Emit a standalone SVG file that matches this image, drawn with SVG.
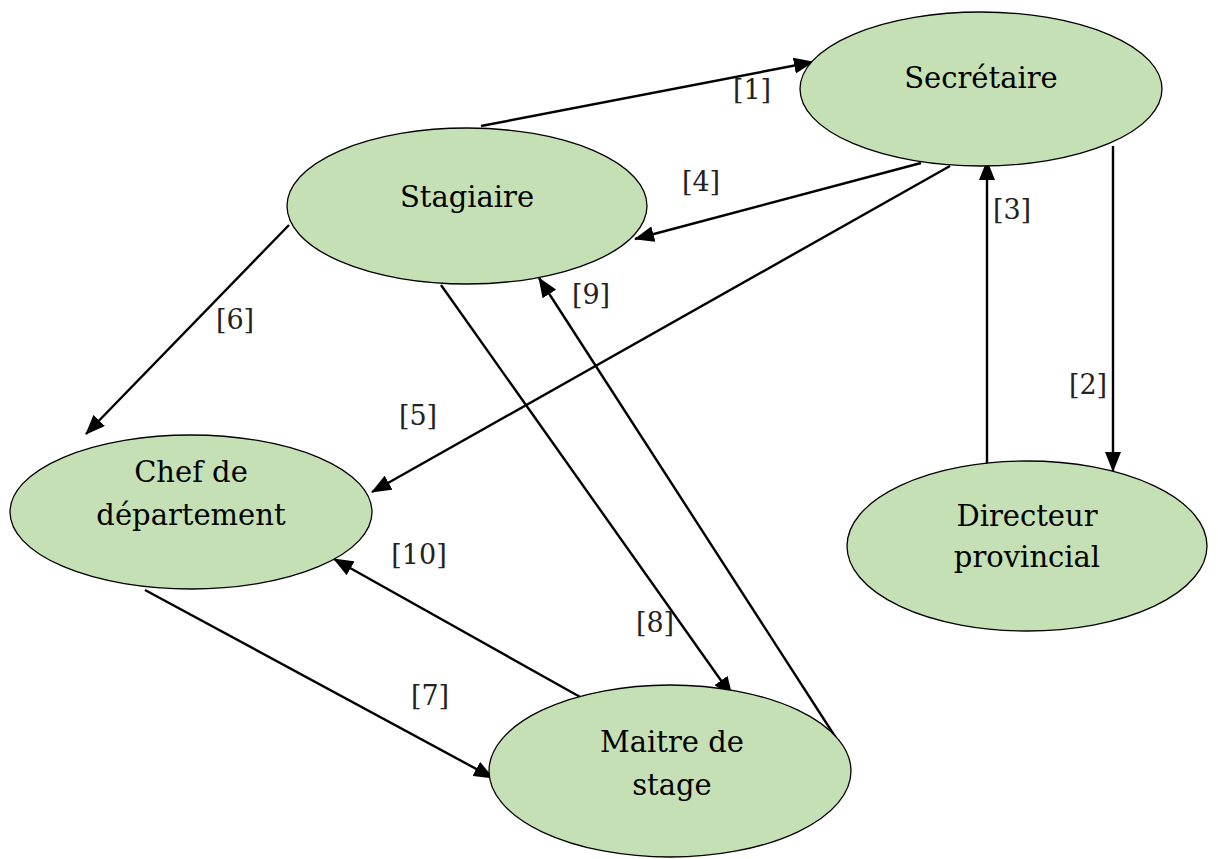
<svg xmlns="http://www.w3.org/2000/svg" width="1218" height="859" viewBox="0 0 1218 859">
  <style>
    .node ellipse { fill: #c5e0b4; stroke: #000; stroke-width: 1.3; }
    .node text { font-family: "DejaVu Serif", "Liberation Serif", serif; font-size: 29px; fill: #000; text-anchor: middle; }
    .edge { stroke: #000; stroke-width: 2.4; fill: none; marker-end: url(#arrow); }
    .lbl { font-family: "DejaVu Serif", "Liberation Serif", serif; font-size: 27px; fill: #222; text-anchor: middle; }
  </style>
  <defs>
    <marker id="arrow" markerUnits="userSpaceOnUse" markerWidth="20" markerHeight="16" refX="19" refY="8" orient="auto">
      <path d="M0,0 L20,8 L0,16 Z" fill="#000"/>
    </marker>
  </defs>
  <rect width="1218" height="859" fill="#fff"/>

  <g id="connectors">
    <line class="edge" x1="481" y1="126" x2="813" y2="62"/>
    <line class="edge" x1="1113" y1="146" x2="1113" y2="471"/>
    <line class="edge" x1="987" y1="464" x2="987" y2="161"/>
    <line class="edge" x1="921" y1="163" x2="635" y2="239"/>
    <line class="edge" x1="950" y1="166" x2="372" y2="492"/>
    <line class="edge" x1="289" y1="225" x2="86" y2="434"/>
    <line class="edge" x1="145" y1="590" x2="493" y2="778"/>
    <line class="edge" x1="441" y1="285" x2="732" y2="696"/>
    <line class="edge" x1="836" y1="738" x2="539" y2="278"/>
    <line class="edge" x1="582" y1="698" x2="334" y2="559"/>
    <text class="lbl" x="752" y="99">[1]</text>
    <text class="lbl" x="1088" y="394">[2]</text>
    <text class="lbl" x="1012" y="219">[3]</text>
    <text class="lbl" x="701" y="191">[4]</text>
    <text class="lbl" x="418" y="425">[5]</text>
    <text class="lbl" x="235" y="329">[6]</text>
    <text class="lbl" x="430" y="705">[7]</text>
    <text class="lbl" x="655" y="632">[8]</text>
    <text class="lbl" x="591" y="304">[9]</text>
    <text class="lbl" x="419" y="564">[10]</text>
  </g>

  <g id="secretaire" class="node">
    <ellipse cx="981" cy="89" rx="181" ry="77"/>
    <text x="981" y="88">Secrétaire</text>
  </g>
  <g id="stagiaire" class="node">
    <ellipse cx="467" cy="206" rx="180" ry="78"/>
    <text x="467" y="207">Stagiaire</text>
  </g>
  <g id="chef" class="node">
    <ellipse cx="191" cy="512" rx="181" ry="77"/>
    <text x="191" y="482">Chef de</text>
    <text x="191" y="525">département</text>
  </g>
  <g id="directeur" class="node">
    <ellipse cx="1027" cy="546" rx="180" ry="85"/>
    <text x="1027" y="526">Directeur</text>
    <text x="1027" y="567">provincial</text>
  </g>
  <g id="maitre" class="node">
    <ellipse cx="670" cy="771" rx="181" ry="86"/>
    <text x="672" y="752">Maitre de</text>
    <text x="672" y="795">stage</text>
  </g>
</svg>
